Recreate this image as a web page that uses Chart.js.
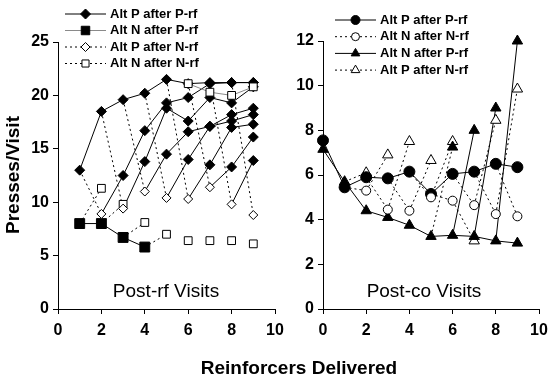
<!DOCTYPE html>
<html>
<head>
<meta charset="utf-8">
<script src="https://cdn.jsdelivr.net/npm/chart.js@4.4.0/dist/chart.umd.min.js"></script>
<style>
  html, body { margin: 0; padding: 0; background: #fff; }
  #wrap { position: relative; width: 549px; height: 381px; overflow: hidden; font-family: "Liberation Sans", Arial, sans-serif; }
  #left { position: absolute; left: 0; top: 0; }
  #right { position: absolute; left: 270px; top: 0; }
  #ytitle { position: absolute; left: 13px; top: 175px; transform: translate(-50%, -50%) rotate(-90deg); white-space: nowrap; font-weight: bold; font-size: 19px; }
  #xtitle { position: absolute; left: 0; width: 598px; top: 357px; text-align: center; font-weight: bold; font-size: 19px; }
</style>
</head>
<body>
<div id="wrap">
  <canvas id="left" width="290" height="381"></canvas>
  <canvas id="right" width="279" height="381"></canvas>
  <div id="ytitle">Presses/Visit</div>
  <div id="xtitle">Reinforcers Delivered</div>
</div>
<script>
const FONT = '"Liberation Sans", Arial, sans-serif';

// ---- left panel: post-rf visits ----
const altPafterPrf = [13.0, 18.5, 19.6, 20.2, 21.5, 21.1, 21.2, 21.2, 21.2]; // x 1-9
const altNafterPrf = [8.0, 8.0, 6.7, 5.8];                                   // x 1-4
const altPafterNrf = [8.9, 9.4, 11.0, 10.4, 10.3, 11.4, 9.8, 8.8];           // x 2-9
const altNafterNrf = [11.3, 9.8, 8.1, 7.0, 6.4, 6.4, 6.4, 6.1];              // x 2-9
const altNafterNrfTop = [21.1, 20.3, 20.0, 20.8];                            // x 6-9
// P-rf runs that follow each open diamond (start at x = 3, 4, ... 9)
const pRun2 = [12.5, 16.7, 19.3, 19.8, 21.1, 21.2, 21.2];
const pRun3 = [13.8, 18.8, 17.6, 19.8, 19.3, 20.8];
const pRun4 = [14.5, 16.6, 17.1, 18.2, 18.8];
const pRun5 = [14.0, 17.1, 17.6, 18.2];
const pRun6 = [13.5, 17.0, 17.3];
const pRun7 = [13.3, 16.1];
const pRun8 = [13.9];

// ---- right panel: post-co visits ----
const coPafterPrf = [7.55, 5.45, 5.9, 5.85, 6.15, 5.15, 6.05, 6.15, 6.5, 6.35]; // x 0-9
const coNafterPrf = [7.15, 5.7, 4.4, 4.1, 3.75, 3.25, 3.3, 3.25, 3.05, 2.95];  // x 0-9
const coNafterPrfHigh = [7.25, 8.0, 9.0, 12.0];                                // x 6-9
const coNafterNrf = [5.3, 4.45, 4.4, 5.0, 4.85, 4.65, 4.25, 4.15];             // x 2-9
const coPafterNrf = [6.1, 6.9, 7.5, 6.65, 7.5, 3.05, 8.45, 9.85];              // x 2-9

const leftLegend = ['Alt P after P-rf', 'Alt N after P-rf', 'Alt P after N-rf', 'Alt N after N-rf'];
const rightLegend = ['Alt P after P-rf', 'Alt N after N-rf', 'Alt N after P-rf', 'Alt P after N-rf'];

const dotted = [2, 3];

function pts(startX, values) {
    return values.map((v, i) => ({ x: startX + i, y: v }));
}

function link(x0, y0, x1, y1, dash, color) {
    return {
        data: [{ x: x0, y: y0 }, { x: x1, y: y1 }],
        showLine: true, borderColor: color || '#000', borderWidth: 1,
        borderDash: dash || [], pointRadius: 0, order: 3, clip: 10
    };
}

function series(data, style, radius, filled, line, order) {
    return {
        data: data,
        showLine: !!line,
        borderColor: line || '#000',
        borderWidth: 1,
        pointStyle: style,
        pointRadius: radius,
        pointBackgroundColor: filled ? '#000' : '#fff',
        pointBorderColor: '#000',
        pointBorderWidth: 1,
        order: order,
        clip: 10
    };
}

// left datasets
const leftSets = [];
altPafterNrf.forEach((v, i) => {
    const x = i + 2;
    leftSets.push(link(x - 1, altPafterPrf[x - 2], x, v, dotted));
});
altNafterPrf.forEach((v, i) => leftSets.push(link(i + 1, v, i + 2, altNafterNrf[i], dotted)));
[pRun2, pRun3, pRun4, pRun5, pRun6, pRun7, pRun8].forEach((run, i) => {
    const start = i + 2;
    const ds = series([{ x: start, y: altPafterNrf[i] }, ...pts(start + 1, run)], 'rectRot', 5, true, '#000', 1);
    ds.pointRadius = c => c.dataIndex === 0 ? 0 : 5;
    leftSets.push(ds);
});
leftSets.push(series(pts(1, altPafterPrf), 'rectRot', 5, true, '#000', 1));
leftSets.push(series(pts(1, altNafterPrf), 'rect', 7, true, '#000', 1));
leftSets.push(series(pts(6, altNafterNrfTop), 'rect', 5.5, false, '#8a8a8a', 0));
leftSets.push(series(pts(2, altPafterNrf), 'rectRot', 4.5, false, null, 0));
leftSets.push(series(pts(2, altNafterNrf), 'rect', 5.5, false, null, 0));

// right datasets
const rightSets = [];
coNafterNrf.forEach((v, i) => {
    const x = i + 2;
    rightSets.push(link(x - 1, coPafterPrf[x - 1], x, v, dotted));
});
coPafterNrf.forEach((v, i) => {
    const x = i + 2;
    const from = x === 2 ? coNafterPrf[1] : coNafterNrf[x - 3];
    rightSets.push(link(x - 1, from, x, v, dotted));
});
coNafterPrfHigh.forEach((v, i) => {
    const x = i + 6;
    rightSets.push(link(x - 1, coNafterPrf[x - 1], x, v, i === 0 ? dotted : []));
});
rightSets.push(series(pts(0, coPafterPrf), 'circle', 5.5, true, '#000', 1));
rightSets.push(series(pts(0, coNafterPrf), 'triangle', 6, true, '#000', 1));
rightSets.push(series(pts(6, coNafterPrfHigh), 'triangle', 6, true, null, 1));
rightSets.push(series(pts(2, coNafterNrf), 'circle', 4.5, false, null, 0));
rightSets.push(series(pts(2, coPafterNrf), 'triangle', 6, false, null, 2));

// legend + caption drawn inside each panel
const panelDeco = {
    id: 'panelDeco',
    afterDraw(chart, args, opts) {
        const ctx = chart.ctx;
        ctx.save();
        opts.items.forEach((it, i) => {
            const y = opts.top + i * opts.gap;
            ctx.strokeStyle = it.lineColor || '#000';
            ctx.lineWidth = 1;
            ctx.setLineDash(it.dash || []);
            ctx.beginPath();
            ctx.moveTo(opts.x0, y);
            ctx.lineTo(opts.x1, y);
            ctx.stroke();
            ctx.setLineDash([]);
            ctx.fillStyle = it.filled ? '#000' : '#fff';
            ctx.strokeStyle = '#000';
            Chart.helpers.drawPoint(ctx, { pointStyle: it.style, radius: it.radius, rotation: 0, borderWidth: 1 }, (opts.x0 + opts.x1) / 2, y);
            ctx.fillStyle = '#000';
            ctx.font = 'bold 13px ' + FONT;
            ctx.textAlign = 'left';
            ctx.textBaseline = 'middle';
            ctx.fillText(opts.labels[i], opts.textX, y);
        });
        ctx.font = '19px ' + FONT;
        ctx.textAlign = 'center';
        ctx.fillText(opts.caption, opts.capX, opts.capY);
        ctx.restore();
    }
};

function baseOptions(yMax, yStep, yWidth, padTop, padRight, deco) {
    const tickFont = { family: FONT, size: 16, weight: 'bold' };
    return {
        responsive: false,
        animation: false,
        devicePixelRatio: 1,
        layout: { padding: { left: 0, top: padTop, right: padRight, bottom: 0 } },
        plugins: { legend: { display: false }, tooltip: { enabled: false }, panelDeco: deco },
        scales: {
            x: {
                type: 'linear', min: 0, max: 10,
                ticks: { stepSize: 2, color: '#000', padding: 7, font: tickFont },
                grid: { drawOnChartArea: false, tickLength: 5, color: '#000' },
                border: { color: '#000', width: 1 },
                afterFit: s => { s.height = 72; s.paddingLeft = 0; s.paddingRight = 0; }
            },
            y: {
                min: 0, max: yMax,
                ticks: { stepSize: yStep, color: '#000', padding: 4, font: tickFont },
                grid: { drawOnChartArea: false, tickLength: 5, color: '#000' },
                border: { color: '#000', width: 1 },
                afterFit: s => { s.width = yWidth; s.paddingTop = 0; s.paddingBottom = 0; }
            }
        }
    };
}

new Chart(document.getElementById('left'), {
    type: 'scatter',
    data: { datasets: leftSets },
    options: baseOptions(25, 5, 58, 42, 15, {
        labels: leftLegend, x0: 65, x1: 106, textX: 110, top: 14, gap: 16.5,
        caption: 'Post-rf Visits', capX: 166, capY: 292,
        items: [
            { style: 'rectRot', radius: 5, filled: true },
            { style: 'rect', radius: 6, filled: true, lineColor: '#8a8a8a' },
            { style: 'rectRot', radius: 4.5, filled: false, dash: dotted },
            { style: 'rect', radius: 5, filled: false, dash: dotted }
        ]
    }),
    plugins: [panelDeco]
});

new Chart(document.getElementById('right'), {
    type: 'scatter',
    data: { datasets: rightSets },
    options: baseOptions(12, 2, 53, 41, 10, {
        labels: rightLegend, x0: 65, x1: 106, textX: 110, top: 20, gap: 16.7,
        caption: 'Post-co Visits', capX: 154, capY: 292,
        items: [
            { style: 'circle', radius: 4.5, filled: true },
            { style: 'circle', radius: 4, filled: false, dash: dotted },
            { style: 'triangle', radius: 5, filled: true },
            { style: 'triangle', radius: 5, filled: false, dash: dotted }
        ]
    }),
    plugins: [panelDeco]
});
</script>
</body>
</html>
